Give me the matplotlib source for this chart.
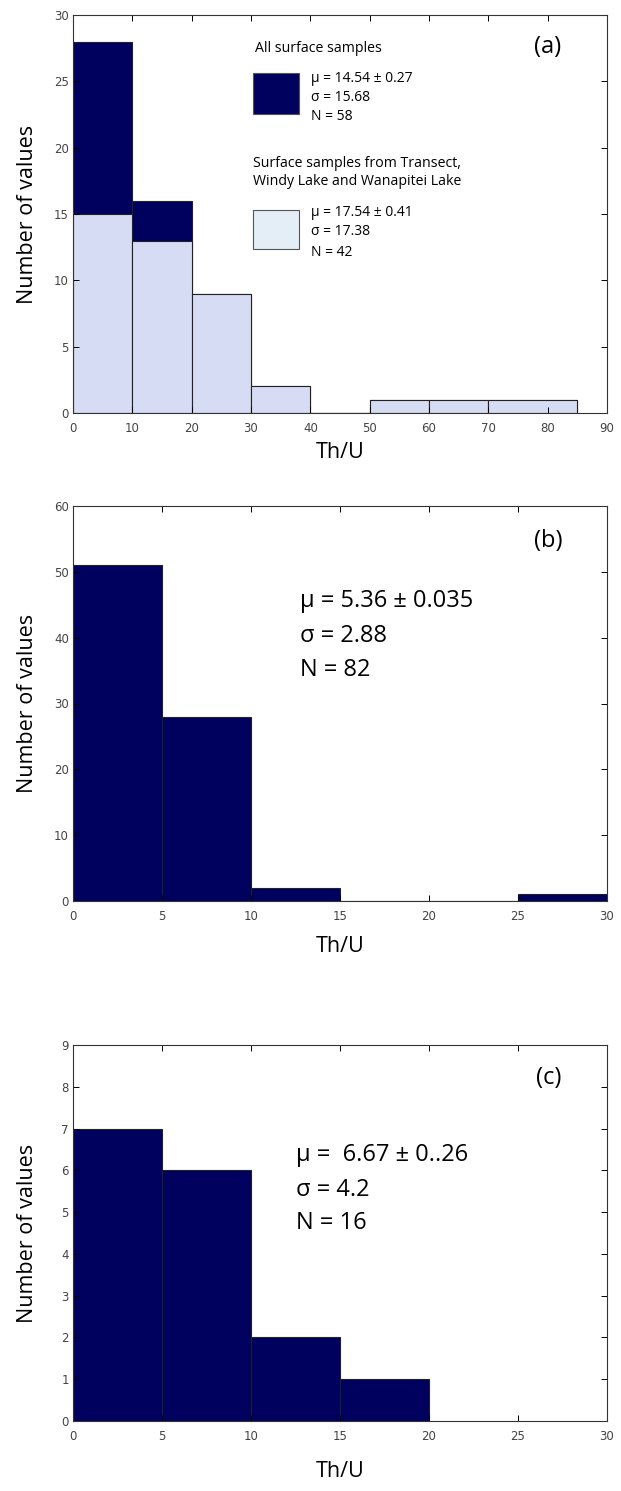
import numpy as np
import matplotlib
matplotlib.use("Agg")
import matplotlib.pyplot as plt
from matplotlib.patches import Rectangle

plt.rcParams['font.family'] = ['Open Sans', 'DejaVu Sans']

# Th/U histograms, counts
a_edges = [0, 10, 20, 30, 40, 50, 60, 70, 85]
a_all = [28, 16, 9, 2, 0, 1, 1, 1]        # all surface samples
a_sub = [15, 13, 9, 2, 0, 1, 1, 1]        # transect, Windy Lake, Wanapitei Lake
b_edges = [0, 5, 10, 15, 20, 25, 30]
b_counts = [51, 28, 2, 0, 0, 1]
c_edges = [0, 5, 10, 15, 20]
c_counts = [7, 6, 2, 1]

a_xticks = [0, 10, 20, 30, 40, 50, 60, 70, 80, 90]
a_yticks = [0, 5, 10, 15, 20, 25, 30]
b_xticks = [0, 5, 10, 15, 20, 25, 30]
b_yticks = [0, 10, 20, 30, 40, 50, 60]
c_xticks = [0, 5, 10, 15, 20, 25, 30]
c_yticks = list(range(10))

stats_all = ["\u03bc = 14.54 \u00b1 0.27", "\u03c3 = 15.68", "N = 58"]
stats_sub = ["\u03bc = 17.54 \u00b1 0.41", "\u03c3 = 17.38", "N = 42"]
stats_b = ["\u03bc = 5.36 \u00b1 0.035", "\u03c3 = 2.88", "N = 82"]
stats_c = ["\u03bc =  6.67 \u00b1 0..26", "\u03c3 = 4.2", "N = 16"]

navy = '#00005e'
lav = '#d6dcf3'
legend_light = '#e3eef7'

fig = plt.figure(figsize=(6.21, 14.91), dpi=100)
W, H = 621, 1491


def make_ax(left, top, right, bottom):
    return fig.add_axes([left / W, 1 - bottom / H, (right - left) / W, (bottom - top) / H])


def style(ax, xt, yt, xlab_y):
    ax.set_xticks(xt)
    ax.set_yticks(yt)
    ax.set_xlim(xt[0], xt[-1])
    ax.set_ylim(yt[0], yt[-1])
    ax.tick_params(direction='in', top=True, right=True, length=4, width=0.7,
                   labelsize=8.5, labelcolor='#444444')
    ax.tick_params(axis='x', pad=6.5)
    ax.tick_params(axis='y', pad=3)
    for lab in ax.get_xticklabels() + ax.get_yticklabels():
        lab.set_family('DejaVu Sans')
    for s in ax.spines.values():
        s.set_linewidth(0.8)
        s.set_color('#333333')
    ax.set_ylabel('Number of values', fontsize=15.5)
    ax.yaxis.set_label_coords(-0.066, 0.5)
    ax.set_xlabel('Th/U', fontsize=15.5)
    ax.xaxis.set_label_coords(0.5, xlab_y)


def hist(ax, edges, counts, color):
    ax.bar(edges[:-1], counts, width=np.diff(edges), align='edge',
           color=color, edgecolor='#222222', linewidth=0.8)


# (a)
ax1 = make_ax(73, 15, 607, 413)
hist(ax1, a_edges, a_all, navy)
hist(ax1, a_edges, a_sub, lav)
style(ax1, a_xticks, a_yticks, -0.074)
ax1.text(0.888, 0.919, '(a)', transform=ax1.transAxes, fontsize=17, ha='center', va='center')
ax1.text(0.341, 0.917, 'All surface samples', transform=ax1.transAxes, fontsize=10.2, va='center')
ax1.add_patch(Rectangle((0.337, 0.751), 0.086, 0.103, transform=ax1.transAxes,
                        facecolor=navy, edgecolor='#555555', linewidth=0.8))
for t, y in zip(stats_all, [0.841, 0.793, 0.746]):
    ax1.text(0.446, y, t, transform=ax1.transAxes, fontsize=10, va='center')
ax1.text(0.337, 0.627, 'Surface samples from Transect,', transform=ax1.transAxes, fontsize=10.2, va='center')
ax1.text(0.337, 0.582, 'Windy Lake and Wanapitei Lake', transform=ax1.transAxes, fontsize=10.2, va='center')
ax1.add_patch(Rectangle((0.337, 0.411), 0.086, 0.098, transform=ax1.transAxes,
                        facecolor=legend_light, edgecolor='#555555', linewidth=0.8))
for t, y in zip(stats_sub, [0.504, 0.456, 0.403]):
    ax1.text(0.446, y, t, transform=ax1.transAxes, fontsize=10, va='center')

# (b)
ax2 = make_ax(73, 506, 607, 901)
hist(ax2, b_edges, b_counts, navy)
style(ax2, b_xticks, b_yticks, -0.089)
ax2.text(0.89, 0.911, '(b)', transform=ax2.transAxes, fontsize=17, ha='center', va='center')
for t, y in zip(stats_b, [0.76, 0.671, 0.585]):
    ax2.text(0.425, y, t, transform=ax2.transAxes, fontsize=17, va='center')

# (c)
ax3 = make_ax(73, 1045, 607, 1421)
hist(ax3, c_edges, c_counts, navy)
style(ax3, c_xticks, c_yticks, -0.106)
ax3.text(0.89, 0.912, '(c)', transform=ax3.transAxes, fontsize=17, ha='center', va='center')
for t, y in zip(stats_c, [0.707, 0.614, 0.527]):
    ax3.text(0.418, y, t, transform=ax3.transAxes, fontsize=17, va='center')

fig.savefig('out.png', dpi=100, facecolor='white')
